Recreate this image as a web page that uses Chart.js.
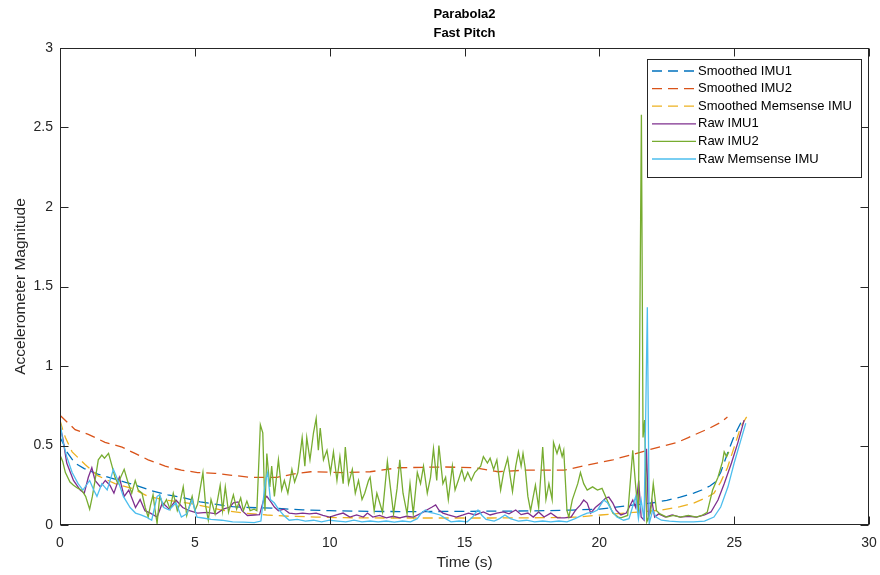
<!DOCTYPE html>
<html>
<head>
<meta charset="utf-8">
<script src="https://cdn.jsdelivr.net/npm/chart.js@4.4.1/dist/chart.umd.min.js"></script>
<style>
  html, body { margin: 0; padding: 0; background: #fff; }
  #wrap { width: 880px; height: 575px; }
</style>
</head>
<body>
<div id="wrap"><canvas id="c" width="880" height="575"></canvas></div>
<script>
// ---- Figure text ----
const titleLines = ['Parabola2', 'Fast Pitch'];
const xLabel = 'Time (s)';
const yLabel = 'Accelerometer Magnitude';
const seriesNames = ['Smoothed IMU1', 'Smoothed IMU2', 'Smoothed Memsense IMU', 'Raw IMU1', 'Raw IMU2', 'Raw Memsense IMU'];
const xTicks = [0, 5, 10, 15, 20, 25, 30];
const yTicks = [0, 0.5, 1, 1.5, 2, 2.5, 3];

// ---- Smoothed IMU1 ----
const tSmoothIMU1 = [0, 0.1, 0.25, 0.55, 0.9, 1.4, 1.9, 2.4, 2.9, 3.4, 4.0, 4.6, 5.2, 5.8, 6.4, 7.0, 8.0, 9.0, 10.0, 11.0, 12.0, 13.0, 14.0, 15.0, 16.0, 17.0, 18.0, 19.0, 20.0, 21.0, 22.0, 22.5, 23.0, 23.5, 23.8, 24.1, 24.3, 24.5, 24.75, 25.0, 25.3];
const vSmoothIMU1 = [0.55, 0.52, 0.46, 0.39, 0.355, 0.32, 0.295, 0.27, 0.245, 0.215, 0.19, 0.17, 0.145, 0.13, 0.115, 0.11, 0.105, 0.095, 0.09, 0.087, 0.085, 0.084, 0.085, 0.086, 0.087, 0.088, 0.09, 0.094, 0.10, 0.12, 0.14, 0.155, 0.175, 0.20, 0.22, 0.245, 0.27, 0.33, 0.45, 0.56, 0.66];

// ---- Smoothed IMU2 ----
const tSmoothIMU2 = [0, 0.56, 1.05, 1.67, 2.3, 2.78, 3.27, 3.9, 4.5, 5.1, 5.75, 6.3, 7.05, 8.05, 8.8, 9.3, 10.5, 11.5, 12.55, 14.2, 15.4, 16.25, 17.25, 18.7, 19.55, 20.5, 21.15, 22.0, 22.9, 23.3, 24.1, 24.5, 24.75];
const vSmoothIMU2 = [0.69, 0.60, 0.57, 0.52, 0.49, 0.45, 0.41, 0.37, 0.345, 0.33, 0.325, 0.314, 0.30, 0.30, 0.325, 0.335, 0.33, 0.335, 0.36, 0.365, 0.36, 0.335, 0.345, 0.345, 0.377, 0.41, 0.44, 0.48, 0.52, 0.55, 0.61, 0.645, 0.68];

// ---- Smoothed Memsense IMU ----
const tSmoothMems = [0, 0.1, 0.2, 0.45, 0.93, 1.4, 2.04, 2.67, 3.27, 3.9, 4.75, 5.5, 6.0, 6.8, 7.67, 8.5, 9.5, 10.5, 12.0, 14.0, 16.0, 18.0, 19.2, 20.05, 21.0, 22.3, 23.0, 23.5, 24.0, 24.25, 24.5, 24.75, 25.0, 25.25, 25.5];
const vSmoothMems = [0.66, 0.60, 0.55, 0.46, 0.38, 0.31, 0.26, 0.23, 0.18, 0.157, 0.138, 0.113, 0.094, 0.075, 0.063, 0.055, 0.05, 0.046, 0.044, 0.044, 0.044, 0.046, 0.05, 0.063, 0.075, 0.094, 0.115, 0.138, 0.175, 0.2, 0.27, 0.36, 0.49, 0.62, 0.69];

// ---- Raw IMU1 ----
const tRawIMU1 = [0, 0.1, 0.25, 0.5, 0.75, 0.9, 1.05, 1.18, 1.3, 1.5, 1.68, 1.85, 2.0, 2.2, 2.38, 2.55, 2.8, 2.97, 3.15, 3.35, 3.6, 3.8, 4.05, 4.3, 4.55, 4.8, 5.1, 5.45, 5.8, 6.05, 6.3, 6.43, 6.6, 6.75, 6.95, 7.2, 7.4, 7.55, 7.67, 7.8, 7.95, 8.1, 8.3, 8.5, 8.75, 9.0, 9.25, 9.5, 9.75, 10.0, 10.25, 10.5, 10.75, 11.0, 11.25, 11.4, 11.6, 11.85, 12.1, 12.35, 12.6, 12.85, 13.1, 13.4, 13.6, 13.8, 13.93, 14.05, 14.2, 14.4, 14.7, 14.95, 15.15, 15.4, 15.7, 15.95, 16.2, 16.45, 16.65, 16.9, 17.1, 17.35, 17.55, 17.75, 17.95, 18.2, 18.45, 18.7, 18.95, 19.12, 19.3, 19.42, 19.55, 19.68, 19.85, 20.05, 20.24, 20.35, 20.5, 20.62, 20.8, 21.0, 21.24, 21.35, 21.46, 21.55, 21.66, 21.75, 21.82, 21.95, 22.05, 22.2, 22.45, 22.7, 23.0, 23.3, 23.6, 23.9, 24.14, 24.4, 24.63, 24.9, 25.14, 25.37];
const vRawIMU1 = [0.62, 0.55, 0.39, 0.28, 0.22, 0.20, 0.30, 0.36, 0.28, 0.24, 0.28, 0.25, 0.20, 0.30, 0.18, 0.22, 0.11, 0.16, 0.09, 0.075, 0.05, 0.14, 0.10, 0.157, 0.11, 0.09, 0.075, 0.08, 0.07, 0.10, 0.113, 0.14, 0.145, 0.09, 0.06, 0.063, 0.065, 0.157, 0.18, 0.15, 0.113, 0.09, 0.10, 0.075, 0.07, 0.075, 0.07, 0.075, 0.06, 0.05, 0.063, 0.075, 0.05, 0.063, 0.05, 0.075, 0.05, 0.06, 0.045, 0.055, 0.045, 0.055, 0.05, 0.075, 0.094, 0.113, 0.126, 0.094, 0.075, 0.063, 0.05, 0.063, 0.075, 0.063, 0.082, 0.063, 0.075, 0.082, 0.07, 0.094, 0.065, 0.075, 0.05, 0.082, 0.05, 0.075, 0.045, 0.045, 0.05, 0.094, 0.126, 0.157, 0.138, 0.075, 0.11, 0.138, 0.17, 0.176, 0.138, 0.094, 0.063, 0.075, 0.157, 0.11, 0.28, 0.05, 0.03, 0.48, 0.05, 0.15, 0.05, 0.07, 0.05, 0.063, 0.05, 0.055, 0.05, 0.063, 0.082, 0.157, 0.26, 0.39, 0.52, 0.66];

// ---- Raw IMU2 ----
const tRawIMU2 = [0, 0.1, 0.2, 0.37, 0.5, 0.67, 0.8, 0.95, 1.1, 1.2, 1.3, 1.42, 1.55, 1.65, 1.8, 1.93, 2.04, 2.15, 2.25, 2.38, 2.5, 2.66, 2.79, 2.9, 3.04, 3.16, 3.27, 3.35, 3.45, 3.52, 3.6, 3.7, 3.82, 3.95, 4.08, 4.2, 4.35, 4.45, 4.57, 4.7, 4.8, 4.9, 5.0, 5.1, 5.3, 5.4, 5.5, 5.6, 5.75, 5.94, 6.03, 6.13, 6.25, 6.43, 6.55, 6.7, 6.8, 6.93, 7.05, 7.2, 7.3, 7.43, 7.52, 7.6, 7.67, 7.78, 7.85, 7.95, 8.1, 8.22, 8.32, 8.45, 8.6, 8.7, 8.82, 8.98, 9.08, 9.15, 9.27, 9.4, 9.5, 9.58, 9.65, 9.77, 9.9, 10.03, 10.14, 10.27, 10.38, 10.5, 10.58, 10.7, 10.84, 10.95, 11.07, 11.2, 11.3, 11.44, 11.5, 11.65, 11.75, 11.96, 12.14, 12.25, 12.37, 12.5, 12.6, 12.72, 12.87, 12.98, 13.1, 13.25, 13.37, 13.48, 13.62, 13.74, 13.85, 13.97, 14.05, 14.2, 14.3, 14.4, 14.55, 14.65, 14.77, 14.9, 15.0, 15.12, 15.25, 15.38, 15.6, 15.7, 15.85, 15.95, 16.08, 16.2, 16.34, 16.45, 16.6, 16.7, 16.78, 16.9, 17.0, 17.1, 17.17, 17.25, 17.35, 17.45, 17.63, 17.75, 17.9, 18.02, 18.13, 18.25, 18.3, 18.43, 18.52, 18.62, 18.68, 18.8, 18.87, 19.0, 19.2, 19.3, 19.42, 19.55, 19.75, 19.93, 20.1, 20.28, 20.5, 20.7, 20.8, 21.05, 21.24, 21.35, 21.45, 21.56, 21.62, 21.68, 21.76, 21.9, 22.0, 22.12, 22.25, 22.5, 22.75, 23.0, 23.3, 23.6, 23.8, 24.0, 24.2, 24.4, 24.57, 24.63, 24.72, 24.8];
const vRawIMU2 = [0.44, 0.40, 0.33, 0.27, 0.25, 0.23, 0.22, 0.18, 0.10, 0.18, 0.28, 0.41, 0.44, 0.42, 0.45, 0.37, 0.30, 0.26, 0.30, 0.35, 0.28, 0.20, 0.28, 0.22, 0.20, 0.11, 0.05, 0.12, 0.19, 0.10, 0.01, 0.18, 0.12, 0.16, 0.10, 0.20, 0.09, 0.14, 0.24, 0.06, 0.12, 0.18, 0.09, 0.13, 0.33, 0.12, 0.03, 0.16, 0.07, 0.25, 0.09, 0.24, 0.08, 0.19, 0.10, 0.17, 0.09, 0.15, 0.09, 0.10, 0.09, 0.63, 0.58, 0.09, 0.45, 0.24, 0.37, 0.18, 0.41, 0.22, 0.28, 0.20, 0.35, 0.27, 0.33, 0.55, 0.37, 0.55, 0.41, 0.58, 0.67, 0.47, 0.61, 0.41, 0.47, 0.33, 0.46, 0.28, 0.43, 0.26, 0.49, 0.26, 0.35, 0.20, 0.28, 0.16, 0.20, 0.28, 0.30, 0.09, 0.20, 0.08, 0.40, 0.24, 0.07, 0.23, 0.41, 0.20, 0.07, 0.26, 0.07, 0.33, 0.26, 0.37, 0.20, 0.30, 0.48, 0.28, 0.50, 0.26, 0.30, 0.16, 0.37, 0.22, 0.28, 0.35, 0.28, 0.33, 0.28, 0.33, 0.37, 0.43, 0.39, 0.42, 0.35, 0.41, 0.22, 0.33, 0.42, 0.30, 0.21, 0.37, 0.46, 0.37, 0.45, 0.36, 0.18, 0.09, 0.25, 0.11, 0.49, 0.16, 0.26, 0.16, 0.52, 0.45, 0.50, 0.43, 0.47, 0.09, 0.05, 0.16, 0.26, 0.33, 0.26, 0.22, 0.24, 0.22, 0.23, 0.16, 0.075, 0.05, 0.045, 0.06, 0.47, 0.24, 0.07, 2.58, 0.55, 0.66, 0.02, 0.08, 0.26, 0.09, 0.07, 0.05, 0.06, 0.05, 0.06, 0.05, 0.06, 0.08, 0.22, 0.30, 0.40, 0.46, 0.43, 0.46];

// ---- Raw Memsense IMU ----
const tRawMems = [0, 0.1, 0.25, 0.45, 0.67, 0.85, 1.1, 1.25, 1.37, 1.55, 1.75, 1.98, 2.15, 2.35, 2.6, 2.8, 3.0, 3.2, 3.4, 3.6, 3.7, 3.85, 4.05, 4.3, 4.5, 4.7, 4.9, 5.08, 5.3, 5.6, 6.0, 6.4, 6.8, 7.2, 7.45, 7.62, 7.7, 7.8, 7.95, 8.1, 8.3, 8.5, 8.8, 9.1, 9.4, 9.7, 10.0, 10.3, 10.6, 10.9, 11.2, 11.5, 11.8, 12.1, 12.4, 12.7, 13.0, 13.25, 13.4, 13.55, 13.7, 13.85, 14.1, 14.3, 14.5, 14.8, 15.1, 15.3, 15.4, 15.5, 15.65, 15.8, 16.1, 16.3, 16.5, 16.7, 17.0, 17.3, 17.6, 17.9, 18.2, 18.5, 18.8, 19.1, 19.35, 19.55, 19.75, 19.93, 20.16, 20.3, 20.45, 20.65, 20.9, 21.1, 21.35, 21.45, 21.55, 21.66, 21.78, 21.85, 21.98, 22.1, 22.3, 22.6, 23.0, 23.5, 23.9, 24.25, 24.5, 24.77, 25.0, 25.25, 25.43];
const vRawMems = [0.66, 0.53, 0.43, 0.33, 0.26, 0.22, 0.28, 0.22, 0.18, 0.26, 0.22, 0.35, 0.28, 0.18, 0.11, 0.075, 0.063, 0.05, 0.03, 0.18, 0.19, 0.11, 0.094, 0.14, 0.05, 0.07, 0.157, 0.05, 0.044, 0.035, 0.03, 0.02, 0.018, 0.015, 0.025, 0.28, 0.33, 0.16, 0.138, 0.10, 0.06, 0.03, 0.035, 0.025, 0.03, 0.02, 0.03, 0.025, 0.02, 0.03, 0.02, 0.025, 0.02, 0.025, 0.018, 0.025, 0.02, 0.04, 0.075, 0.094, 0.08, 0.075, 0.063, 0.04, 0.02, 0.025, 0.02, 0.05, 0.075, 0.094, 0.06, 0.035, 0.025, 0.04, 0.063, 0.04, 0.025, 0.03, 0.02, 0.025, 0.02, 0.025, 0.02, 0.04, 0.06, 0.075, 0.08, 0.094, 0.157, 0.14, 0.094, 0.05, 0.03, 0.04, 0.18, 0.04, 0.157, 0.03, 1.37, 0.01, 0.094, 0.05, 0.03, 0.025, 0.02, 0.02, 0.025, 0.05, 0.113, 0.24, 0.39, 0.535, 0.64];

// ---- Styling ----
const FONT = '"Liberation Sans", Arial, Helvetica, sans-serif';
const AXIS_COLOR = '#262626';
const colors = ['#0072BD', '#D95319', '#EDB120', '#7E2F8E', '#77AC30', '#4DBEEE'];
const dashes = [[10, 6], [10, 6], [10, 6], [], [], []];

const pairs = (t, v) => t.map((x, i) => ({ x: x, y: v[i] }));
const seriesData = [
  pairs(tSmoothIMU1, vSmoothIMU1),
  pairs(tSmoothIMU2, vSmoothIMU2),
  pairs(tSmoothMems, vSmoothMems),
  pairs(tRawIMU1, vRawIMU1),
  pairs(tRawIMU2, vRawIMU2),
  pairs(tRawMems, vRawMems)
];

const datasets = seriesNames.map((name, i) => ({
  label: name,
  data: seriesData[i],
  borderColor: colors[i],
  backgroundColor: colors[i],
  borderWidth: 1.3,
  borderDash: dashes[i],
  pointRadius: 0,
  tension: 0,
  fill: false,
  order: seriesNames.length - i   // later series are painted on top
}));

// Box, inward tick marks, titles and legend in MATLAB style
const figureDecor = {
  id: 'figureDecor',
  beforeDraw(chart) {
    const ctx = chart.ctx;
    ctx.save();
    ctx.fillStyle = '#ffffff';
    ctx.fillRect(0, 0, chart.width, chart.height);
    ctx.restore();
  },
  afterDraw(chart) {
    const ctx = chart.ctx;
    const a = chart.chartArea;
    const xs = chart.scales.x, ys = chart.scales.y;
    ctx.save();
    ctx.strokeStyle = AXIS_COLOR;
    ctx.lineWidth = 1;
    ctx.setLineDash([]);
    const L = Math.round(a.left) + 0.5, R = Math.round(a.right) - 0.5;
    const T = Math.round(a.top) + 0.5, B = Math.round(a.bottom) - 0.5;
    ctx.strokeRect(L, T, R - L, B - T);
    const tl = 8;
    ctx.beginPath();
    xTicks.forEach(v => {
      const px = Math.round(xs.getPixelForValue(v)) + 0.5;
      ctx.moveTo(px, B); ctx.lineTo(px, B - tl);
      ctx.moveTo(px, T); ctx.lineTo(px, T + tl);
    });
    yTicks.forEach(v => {
      const py = Math.round(ys.getPixelForValue(v)) + 0.5;
      ctx.moveTo(L, py); ctx.lineTo(L + tl, py);
      ctx.moveTo(R, py); ctx.lineTo(R - tl, py);
    });
    ctx.stroke();

    // title
    const cx = (a.left + a.right) / 2;
    ctx.fillStyle = '#000';
    ctx.textAlign = 'center';
    ctx.textBaseline = 'middle';
    ctx.font = 'bold 13px ' + FONT;
    ctx.fillText(titleLines[0], cx, 14);
    ctx.fillText(titleLines[1], cx, 33);

    // axis labels
    ctx.fillStyle = AXIS_COLOR;
    ctx.font = '15.5px ' + FONT;
    ctx.fillText(xLabel, cx, 563);
    ctx.save();
    ctx.translate(21, (a.top + a.bottom) / 2);
    ctx.rotate(-Math.PI / 2);
    ctx.fillText(yLabel, 0, 0);
    ctx.restore();

    // legend
    const lx = 647, ly = 59, lw = 215, lh = 119;
    ctx.fillStyle = '#fff';
    ctx.fillRect(lx, ly, lw, lh);
    ctx.strokeStyle = AXIS_COLOR;
    ctx.strokeRect(lx + 0.5, ly + 0.5, lw - 1, lh - 1);
    ctx.font = '13px ' + FONT;
    ctx.textAlign = 'left';
    ctx.textBaseline = 'middle';
    seriesNames.forEach((name, i) => {
      const y = ly + 12 + i * 17.6;
      ctx.strokeStyle = colors[i];
      ctx.lineWidth = 1.3;
      ctx.setLineDash(dashes[i]);
      ctx.beginPath();
      ctx.moveTo(lx + 5, y);
      ctx.lineTo(lx + 49, y);
      ctx.stroke();
      ctx.setLineDash([]);
      ctx.fillStyle = '#000';
      ctx.fillText(name, lx + 51, y);
    });
    ctx.restore();
  }
};

new Chart(document.getElementById('c'), {
  type: 'line',
  data: { datasets: datasets },
  options: {
    responsive: false,
    animation: false,
    devicePixelRatio: 1,
    layout: { padding: { top: 48, right: 11, bottom: 0, left: 0 } },
    plugins: { legend: { display: false }, tooltip: { enabled: false }, title: { display: false } },
    scales: {
      x: {
        type: 'linear',
        min: 0, max: 30,
        afterFit: s => { s.height = 50; s.paddingLeft = 0; s.paddingRight = 0; },
        afterBuildTicks: s => { s.ticks = xTicks.map(v => ({ value: v })); },
        grid: { display: false },
        border: { display: false },
        ticks: { color: AXIS_COLOR, font: { family: FONT, size: 14 }, padding: 2, maxRotation: 0, callback: v => String(v) }
      },
      y: {
        type: 'linear',
        min: 0, max: 3,
        afterFit: s => { s.width = 60; s.paddingTop = 0; s.paddingBottom = 0; },
        afterBuildTicks: s => { s.ticks = yTicks.map(v => ({ value: v })); },
        grid: { display: false, tickLength: 0 },
        border: { display: false },
        ticks: { color: AXIS_COLOR, font: { family: FONT, size: 14 }, padding: 7, callback: v => String(v) }
      }
    }
  },
  plugins: [figureDecor]
});
</script>
</body>
</html>
